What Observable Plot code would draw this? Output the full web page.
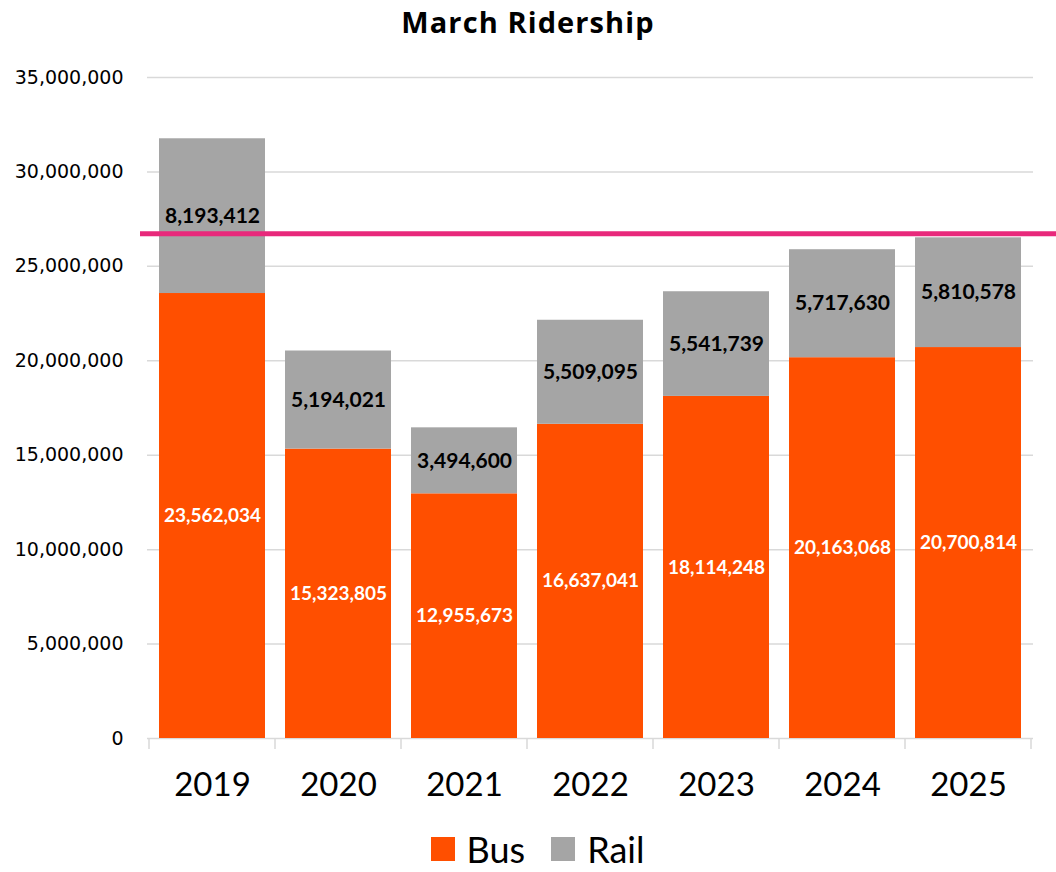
<!DOCTYPE html>
<html><head><meta charset="utf-8">
<script src="https://cdn.jsdelivr.net/npm/d3@7"></script>
<script src="https://cdn.jsdelivr.net/npm/@observablehq/plot@0.6"></script>
<style>
body{margin:0;background:#fff;font-family:Lato,sans-serif;width:1056px;overflow:hidden;}
#title{height:48px;line-height:44px;text-align:center;font-weight:bold;font-size:29px;letter-spacing:1.1px;color:#000;font-family:"Open Sans",sans-serif;}
#chart svg{display:block;}
#chart [aria-label^="y-axis"] text{font-family:"DejaVu Sans",sans-serif;font-size:19px;fill:#000;}
#chart [aria-label^="x-axis"] text{font-family:Lato,sans-serif;font-size:33px;fill:#000;}
#legend{display:flex;justify-content:center;align-items:center;height:58px;font-size:36px;line-height:34px;color:#000;padding-left:19px;}
#legend .item{display:flex;align-items:center;margin:0 13px;}
#legend .sw{width:24px;height:24px;margin-right:12px;}
</style></head><body>
<div id="title">March Ridership</div>
<div id="chart"></div>
<div id="legend"></div>
<script>
const years = ["2019","2020","2021","2022","2023","2024","2025"];
const bus = [23562034, 15323805, 12955673, 16637041, 18114248, 20163068, 20700814];
const rail = [8193412, 5194021, 3494600, 5509095, 5541739, 5717630, 5810578];
const seriesNames = ["Bus","Rail"];
const seriesColors = ["#FF4F00","#A5A5A5"];
const yTicks = [0,5000000,10000000,15000000,20000000,25000000,30000000,35000000];
const targetLine = [26720000];

const data = [];
years.forEach((y,i)=>data.push({year:y, series:"Bus", value:bus[i]}));
years.forEach((y,i)=>data.push({year:y, series:"Rail", value:rail[i]}));

const fmt = d3.format(",");
const chart = Plot.plot({
  width:1056, height:772, marginLeft:147, marginRight:23, marginTop:29, marginBottom:82,
  style:{fontFamily:"Lato, sans-serif", background:"white", overflow:"visible"},
  x:{domain:years, paddingInner:0.16, paddingOuter:0.08, label:null, tickSize:0, tickPadding:34},
  y:{domain:[0,35000000], ticks:yTicks, tickFormat:fmt, label:null, tickSize:0, tickPadding:24},
  color:{domain:seriesNames, range:seriesColors},
  marks:[
    Plot.ruleY(yTicks.filter(d=>d>0), {stroke:"#d9d9d9", strokeWidth:1.5}),
    Plot.ruleY([0], {stroke:"#d9d9d9", strokeWidth:1.5}),
    Plot.barY(data, {x:"year", y:"value", fill:"series"}),
    Plot.text(data, Plot.stackY({x:"year", y:"value", z:"series",
      text: d => d.series==="Bus" ? fmt(d.value) : null,
      fill:"white", fontWeight:"bold", fontSize:19, fontFamily:"Lato, sans-serif"})),
    Plot.text(data, Plot.stackY({x:"year", y:"value", z:"series",
      text: d => d.series==="Rail" ? fmt(d.value) : null,
      fill:"black", fontWeight:"bold", fontSize:21, fontFamily:"Lato, sans-serif"})),
    Plot.ruleY(targetLine, {stroke:"#E8297B", strokeWidth:5, insetLeft:-7, insetRight:-23, ariaLabel:"target"})
  ]
});

// category separators on x axis
const xs = chart.scale("x"), ys = chart.scale("y");
const bw = xs.bandwidth, st = xs.step;
const y0 = ys.apply(0);
const bounds = years.map(y => xs.apply(y) - (st - bw)/2);
bounds.push(xs.apply(years[years.length-1]) + bw + (st - bw)/2);
const svg = d3.select(chart);
const g = svg.append("g").attr("stroke","#d9d9d9").attr("stroke-width",1.5);
bounds.forEach(b => g.append("line").attr("x1",b).attr("x2",b).attr("y1",y0).attr("y2",y0+11));
svg.selectAll('[aria-label="target"]').style("filter","drop-shadow(0px 4px 3px rgba(0,0,0,0.5))");

document.getElementById("chart").appendChild(chart);

const leg = d3.select("#legend");
seriesNames.forEach((s,i)=>{
  const it = leg.append("div").attr("class","item");
  it.append("div").attr("class","sw").style("background",seriesColors[i]);
  it.append("span").text(s);
});
</script>
</body></html>
